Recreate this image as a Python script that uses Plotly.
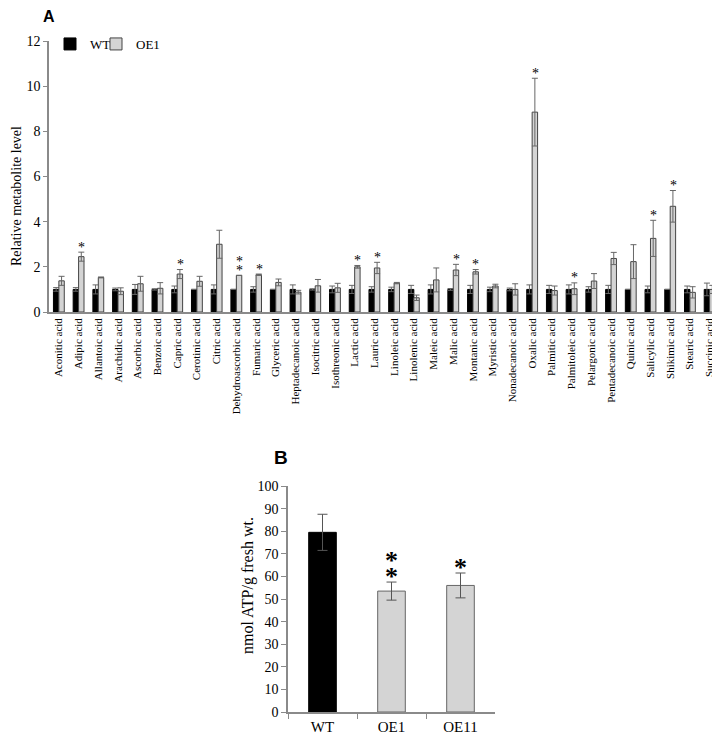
import plotly.graph_objects as go

# ---------------- Panel A data ----------------
acids = ["Aconitic acid", "Adipic acid", "Allantoic acid", "Arachidic acid", "Ascorbic acid",
         "Benzoic acid", "Capric acid", "Cerotinic acid", "Citric acid", "Dehydroascorbic acid",
         "Fumaric acid", "Glyceric acid", "Heptadecanoic acid", "Isocitric acid", "Isothreonic acid",
         "Lactic acid", "Lauric acid", "Linoleic acid", "Linolenic acid", "Maleic acid",
         "Malic acid", "Montanic acid", "Myristic acid", "Nonadecanoic acid", "Oxalic acid",
         "Palmitic acid", "Palmitoleic acid", "Pelargonic acid", "Pentadecanoic acid", "Quinic acid",
         "Salicylic acid", "Shikimic acid", "Stearic acid", "Succinic acid"]

wt_vals = [1.0] * len(acids)
wt_err = [0.08, 0.08, 0.2, 0.06, 0.22, 0.03, 0.15, 0.0, 0.2, 0.0,
          0.12, 0.0, 0.2, 0.03, 0.15, 0.18, 0.12, 0.1, 0.18, 0.2,
          0.04, 0.18, 0.1, 0.06, 0.2, 0.18, 0.2, 0.12, 0.18, 0.0,
          0.15, 0.0, 0.15, 0.28]
oe1_vals = [1.38, 2.45, 1.53, 0.92, 1.25, 1.05, 1.68, 1.36, 3.0, 1.62,
            1.65, 1.31, 0.88, 1.16, 1.07, 2.0, 1.95, 1.28, 0.63, 1.42,
            1.86, 1.78, 1.15, 1.0, 8.85, 0.95, 1.03, 1.37, 2.37, 2.23,
            3.26, 4.68, 0.87, 1.0]
oe1_err = [0.2, 0.2, 0.02, 0.15, 0.33, 0.25, 0.2, 0.22, 0.62, 0.0,
           0.03, 0.15, 0.08, 0.28, 0.2, 0.06, 0.25, 0.03, 0.12, 0.53,
           0.25, 0.1, 0.08, 0.25, 1.5, 0.2, 0.26, 0.33, 0.27, 0.75,
           0.8, 0.7, 0.25, 0.18]
oe1_sig = [0, 1, 0, 0, 0, 0, 1, 0, 0, 2,
           1, 0, 0, 0, 0, 1, 1, 0, 0, 0,
           1, 1, 0, 0, 1, 0, 1, 0, 0, 0,
           1, 1, 0, 0]

# ---------------- Panel B data ----------------
lines_b = ["WT", "OE1", "OE11"]
atp_vals = [79.5, 53.5, 56.0]
atp_err = [8.0, 4.0, 5.5]
atp_sig = [0, 2, 1]

SERIF = "Liberation Serif"
AXIS_GREY = "#8a8a8a"

# The page places the figure 8px from the window's top-left corner.
OFF = 8
W, H = 720 - OFF, 734 - OFF


def fx(px):  # window pixel x -> paper fraction
    return (px - OFF) / W


def fy(py):  # window pixel y -> paper fraction
    return 1 - (py - OFF) / H


fig = go.Figure()

fig.add_trace(go.Bar(
    x=acids, y=wt_vals, name="WT", legend="legend",
    marker=dict(color="black", line=dict(color="black", width=1)),
    error_y=dict(type="data", array=wt_err, visible=True, color="#666666", thickness=1, width=3),
    xaxis="x", yaxis="y",
))
fig.add_trace(go.Bar(
    x=acids, y=oe1_vals, name="OE1", legend="legend2",
    marker=dict(color="#d4d4d4", line=dict(color="#444444", width=1)),
    error_y=dict(type="data", array=oe1_err, visible=True, color="#666666", thickness=1, width=3),
    xaxis="x", yaxis="y",
))

fig.add_trace(go.Bar(
    x=lines_b, y=atp_vals, showlegend=False,
    marker=dict(color=["black", "#d4d4d4", "#d4d4d4"],
                line=dict(color=["black", "#666666", "#666666"], width=1)),
    error_y=dict(type="data", array=atp_err, visible=True, color="#555555", thickness=1, width=5),
    width=0.4,
    xaxis="x2", yaxis="y2",
))

annotations = []
for cat, v, e, n in zip(acids, oe1_vals, oe1_err, oe1_sig):
    for k in range(n):
        annotations.append(dict(
            x=cat, y=v + e, xref="x", yref="y", text="*", showarrow=False,
            xshift=3, xanchor="center", yanchor="middle", yshift=5 + 9 * k,
            font=dict(family=SERIF, size=14, color="black"),
        ))
for cat, v, e, n in zip(lines_b, atp_vals, atp_err, atp_sig):
    for k in range(n):
        annotations.append(dict(
            x=cat, y=v + e, xref="x2", yref="y2", text="<b>*</b>", showarrow=False,
            xanchor="center", yanchor="middle", yshift=6 + 16 * k,
            font=dict(family=SERIF, size=26, color="black"),
        ))

# panel letters
annotations.append(dict(x=fx(49), y=fy(16), xref="paper", yref="paper", text="<b>A</b>",
                        xanchor="center", yanchor="middle", showarrow=False,
                        font=dict(family="Liberation Sans", size=16, color="black")))
annotations.append(dict(x=fx(281), y=fy(457), xref="paper", yref="paper", text="<b>B</b>",
                        xanchor="center", yanchor="middle", showarrow=False,
                        font=dict(family="Liberation Sans", size=19, color="black")))
# axis titles
annotations.append(dict(x=fx(17), y=fy(196), xref="paper", yref="paper",
                        text="Relative metabolite level", textangle=-90, showarrow=False,
                        xanchor="center", yanchor="middle",
                        font=dict(family=SERIF, size=14, color="black")))
annotations.append(dict(x=fx(248), y=fy(586), xref="paper", yref="paper",
                        text="nmol ATP/g fresh wt.", textangle=-90, showarrow=False,
                        xanchor="center", yanchor="middle",
                        font=dict(family=SERIF, size=16, color="black")))

legend_common = dict(orientation="h", xanchor="left", yanchor="middle",
                     font=dict(family=SERIF, size=13), itemwidth=30,
                     bgcolor="rgba(0,0,0,0)")

fig.update_layout(
    width=W, height=H,
    margin=dict(l=0, r=0, t=0, b=0),
    paper_bgcolor="white", plot_bgcolor="white",
    barmode="group", bargap=0.45, bargroupgap=0.0,
    font=dict(family=SERIF, color="black"),
    showlegend=True,
    legend=dict(x=fx(50), y=fy(44), **legend_common),
    legend2=dict(x=fx(96), y=fy(44), **legend_common),
    xaxis=dict(domain=[fx(49), fx(719.5)], type="category", tickangle=-90,
               tickfont=dict(family=SERIF, size=11), showline=True, linecolor=AXIS_GREY,
               linewidth=1.5, ticks="", showgrid=False, anchor="y", automargin=False),
    yaxis=dict(domain=[fy(312), fy(41)], range=[0, 12], dtick=2,
               tickfont=dict(family=SERIF, size=14),
               showline=True, linecolor=AXIS_GREY, linewidth=1.5, ticks="outside", ticklen=4,
               tickcolor=AXIS_GREY, showgrid=False, zeroline=False, anchor="x", automargin=False),
    xaxis2=dict(domain=[fx(288), fx(495)], type="category", tickfont=dict(family=SERIF, size=15),
                showline=True, linecolor=AXIS_GREY, linewidth=1.5, ticks="outside",
                tickson="boundaries", ticklen=5, tickcolor=AXIS_GREY, showgrid=False, anchor="y2",
                automargin=False),
    yaxis2=dict(domain=[fy(712), fy(486)], range=[0, 100], dtick=10,
                tickfont=dict(family=SERIF, size=14),
                showline=True, linecolor=AXIS_GREY, linewidth=1.5, ticks="outside", ticklen=5,
                tickcolor=AXIS_GREY, showgrid=False, zeroline=False, anchor="x2", automargin=False),
    annotations=annotations,
)

fig.write_html("out.html")
